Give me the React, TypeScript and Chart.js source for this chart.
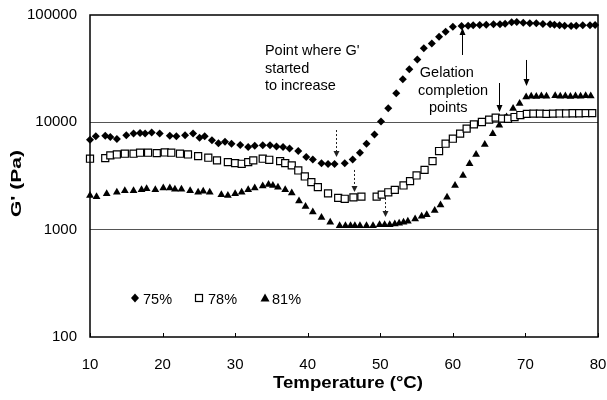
import React, { useEffect, useRef } from "react";
import { Chart, registerables } from "chart.js";

Chart.register(...registerables);

// ---------- data ----------
const temps75 = [10, 10.8, 12.1, 12.8, 13.7, 15, 16, 16.9, 17.6, 18.5, 19.6, 21, 21.9, 23.1, 24.2, 25.1, 25.8, 26.8, 27.7, 28.6, 29.5, 30.7, 31.8, 32.7, 33.8, 34.8, 35.7, 36.6, 37.5, 38.7, 39.8, 40.7, 41.9, 42.8, 43.7, 45.1, 46.2, 47.2, 48.1, 49.2, 50.1, 51.1, 52.2, 53.1, 54, 55.1, 56, 57.1, 58.1, 59, 60, 61.2, 62.1, 62.8, 63.7, 64.6, 65.6, 66.5, 67.2, 68.1, 68.8, 69.7, 70.6, 71.5, 72.4, 73.4, 74, 74.7, 75.4, 76.3, 77, 77.9, 78.9, 79.6];
const g75 = [6900, 7400, 7500, 7300, 7000, 7600, 7850, 7950, 7850, 8050, 7850, 7500, 7400, 7600, 7850, 7200, 7400, 6800, 6400, 6600, 6300, 6150, 5900, 6050, 6100, 6100, 5950, 5900, 5700, 5400, 4750, 4500, 4150, 4100, 4100, 4150, 4500, 5200, 6300, 7700, 10200, 13500, 18700, 25200, 31300, 38500, 48900, 54400, 62700, 69800, 77800, 79000, 79500, 80200, 80700, 81200, 81900, 81900, 83000, 85500, 86100, 84800, 83700, 83700, 82400, 81900, 81200, 80200, 79500, 79000, 79500, 80200, 80200, 80700];

const temps78 = [10, 12.1, 12.8, 13.7, 14.8, 16, 16.9, 18, 19.2, 20.3, 21.2, 22.4, 23.5, 24.9, 26.3, 27.5, 29, 30, 30.9, 31.8, 32.5, 33.8, 34.7, 36.2, 36.9, 37.8, 38.7, 39.6, 40.5, 41.4, 42.8, 44.2, 45.1, 46.3, 47.4, 49.5, 50.2, 51.1, 52, 53.2, 54.1, 55, 56.1, 57.2, 58.1, 59, 60, 61, 61.9, 62.9, 64, 65, 65.9, 66.8, 67.6, 68.5, 69.3, 70.2, 71.1, 72, 72.9, 73.8, 74.7, 75.6, 76.5, 77.4, 78.3, 79.2];
const g78 = [4580, 4640, 4920, 5020, 5100, 5100, 5210, 5210, 5170, 5240, 5210, 5100, 5020, 4840, 4680, 4420, 4260, 4170, 4110, 4260, 4420, 4580, 4480, 4350, 4170, 3970, 3560, 3130, 2770, 2490, 2180, 1980, 1940, 2000, 2030, 2030, 2120, 2230, 2350, 2580, 2830, 3200, 3610, 4350, 5400, 6320, 7040, 7840, 8730, 9580, 10070, 10600, 11060, 10830, 10800, 11200, 11700, 12000, 12060, 12060, 12000, 12060, 12100, 12100, 12150, 12150, 12200, 12200];

const temps81 = [10, 10.9, 12.3, 13.7, 14.8, 16, 17.1, 17.8, 19, 20.1, 21, 21.7, 22.6, 23.8, 24.9, 25.6, 26.5, 28.1, 29, 30, 30.9, 31.8, 32.7, 33.8, 34.6, 35.2, 35.9, 36.9, 37.8, 38.8, 39.7, 40.7, 41.9, 43.1, 44.4, 45.2, 45.9, 46.5, 47.2, 48.1, 49, 49.9, 50.6, 51.3, 52, 52.6, 53.2, 53.8, 54.8, 55.7, 56.4, 57.5, 58.3, 59.2, 60.3, 61.4, 62.3, 63.2, 64.4, 65.5, 66.4, 67.4, 68.3, 69.2, 70.1, 70.8, 71.5, 72.2, 72.9, 74.1, 74.8, 75.5, 76.2, 76.9, 77.6, 78.3, 79];
const g81 = [2080, 2030, 2160, 2230, 2310, 2310, 2350, 2400, 2350, 2450, 2450, 2380, 2380, 2310, 2230, 2280, 2230, 2120, 2080, 2160, 2230, 2350, 2450, 2550, 2630, 2580, 2490, 2350, 2200, 1850, 1640, 1460, 1300, 1170, 1090, 1090, 1090, 1090, 1090, 1090, 1090, 1110, 1110, 1110, 1130, 1150, 1170, 1200, 1260, 1330, 1380, 1510, 1700, 2000, 2580, 3200, 4110, 5020, 6230, 7840, 9370, 11210, 13430, 14960, 17230, 17500, 17400, 17600, 17500, 17700, 17500, 17600, 17400, 17600, 17500, 17700, 17600];

const seriesLabels = ["75%", "78%", "81%"];
const xTicks = [10, 20, 30, 40, 50, 60, 70, 80];
const yTicks = [100, 1000, 10000, 100000];

// annotations (temperature, G' values)
const dottedArrows = [
  { t: 43.9, from: 8480, to: 4750 },
  { t: 46.4, from: 3600, to: 2240 },
  { t: 50.6, from: 1970, to: 1310 },
];
const solidArrows = [
  { t: 61.2, from: 42400, to: 75700 },
  { t: 66.3, from: 23250, to: 12480 },
  { t: 70.1, from: 38100, to: 21800 },
];
const noteLines = [
  { t: 34.1, g: 42400, text: "Point where G'" },
  { t: 34.1, g: 28800, text: "started" },
  { t: 34.1, g: 20000, text: "to increase" },
  { t: 55.45, g: 26440, text: "Gelation" },
  { t: 55.2, g: 17970, text: "completion" },
  { t: 56.7, g: 12480, text: "points" },
];

const FONT = "'Liberation Sans', Arial, Helvetica, sans-serif";

function drawStretched(ctx: CanvasRenderingContext2D, text: string, cx: number, cy: number, targetW: number, font: string, rot: number) {
  ctx.save();
  ctx.font = font;
  const w = ctx.measureText(text).width;
  ctx.translate(cx, cy);
  ctx.rotate(rot);
  ctx.scale(targetW / w, 1);
  ctx.textAlign = "center";
  ctx.textBaseline = "middle";
  ctx.fillStyle = "#000";
  ctx.fillText(text, 0, 0);
  ctx.restore();
}

function drawArrow(ctx: CanvasRenderingContext2D, x: number, y1: number, y2: number, dashed: boolean) {
  const dir = y2 > y1 ? 1 : -1;
  const head = dashed ? 6 : 7;
  const hw = 3;
  ctx.save();
  ctx.strokeStyle = dashed ? "#222" : "#000";
  ctx.fillStyle = dashed ? "#222" : "#000";
  ctx.lineWidth = 1;
  if (dashed) ctx.setLineDash([2, 2]);
  ctx.beginPath();
  ctx.moveTo(x, y1);
  ctx.lineTo(x, y2 - dir * head);
  ctx.stroke();
  ctx.setLineDash([]);
  ctx.beginPath();
  ctx.moveTo(x, y2);
  ctx.lineTo(x - hw, y2 - dir * head);
  ctx.lineTo(x + hw, y2 - dir * head);
  ctx.closePath();
  ctx.fill();
  ctx.restore();
}

const overlayPlugin = {
  id: "overlay",
  afterDraw(chart: any) {
    const { ctx, chartArea } = chart;
    const { left, right, top, bottom } = chartArea;
    const xs = chart.scales.x;
    const ys = chart.scales.y;
    ctx.save();
    // frame
    ctx.strokeStyle = "#000";
    ctx.lineWidth = 1.5;
    ctx.strokeRect(left, top, right - left, bottom - top);
    // inside ticks on x axis
    ctx.lineWidth = 1;
    xTicks.forEach((v) => {
      const px = Math.round(xs.getPixelForValue(v)) + 0.5;
      ctx.beginPath();
      ctx.moveTo(px, bottom);
      ctx.lineTo(px, bottom - 4);
      ctx.stroke();
    });
    // arrows
    dottedArrows.forEach((a) => {
      drawArrow(ctx, Math.round(xs.getPixelForValue(a.t)) + 0.5, ys.getPixelForValue(a.from), ys.getPixelForValue(a.to), true);
    });
    solidArrows.forEach((a) => {
      drawArrow(ctx, Math.round(xs.getPixelForValue(a.t)) + 0.5, ys.getPixelForValue(a.from), ys.getPixelForValue(a.to), false);
    });
    // notes
    ctx.fillStyle = "#000";
    ctx.font = `14.5px ${FONT}`;
    ctx.textAlign = "left";
    ctx.textBaseline = "alphabetic";
    noteLines.forEach((n) => {
      ctx.fillText(n.text, xs.getPixelForValue(n.t), ys.getPixelForValue(n.g));
    });
    // legend
    const legendY = 298;
    const items = [
      { mx: 135, tx: 143 },
      { mx: 199, tx: 208 },
      { mx: 265, tx: 272 },
    ];
    ctx.fillStyle = "#000";
    ctx.beginPath();
    ctx.moveTo(items[0].mx, legendY - 4.5);
    ctx.lineTo(items[0].mx + 4, legendY);
    ctx.lineTo(items[0].mx, legendY + 4.5);
    ctx.lineTo(items[0].mx - 4, legendY);
    ctx.closePath();
    ctx.fill();
    ctx.fillStyle = "#fff";
    ctx.strokeStyle = "#000";
    ctx.lineWidth = 1.2;
    ctx.fillRect(items[1].mx - 3.5, legendY - 3.5, 7, 7);
    ctx.strokeRect(items[1].mx - 3.5, legendY - 3.5, 7, 7);
    ctx.fillStyle = "#000";
    ctx.beginPath();
    ctx.moveTo(items[2].mx, legendY - 4.5);
    ctx.lineTo(items[2].mx + 4.5, legendY + 3.5);
    ctx.lineTo(items[2].mx - 4.5, legendY + 3.5);
    ctx.closePath();
    ctx.fill();
    ctx.font = `14.5px ${FONT}`;
    ctx.textBaseline = "alphabetic";
    items.forEach((it, i) => ctx.fillText(seriesLabels[i], it.tx, legendY + 6));
    // axis titles
    drawStretched(ctx, "Temperature (°C)", 348, 383.5, 150, `bold 17px ${FONT}`, 0);
    drawStretched(ctx, "G' (Pa)", 17, 183.5, 67, `bold 15px ${FONT}`, -Math.PI / 2);
    ctx.restore();
  },
};

function toPoints(xs: number[], ys: number[]) {
  return xs.map((x, i) => ({ x, y: ys[i] }));
}

export default function App() {
  const ref = useRef<HTMLCanvasElement | null>(null);
  useEffect(() => {
    if (!ref.current) return;
    const chart = new Chart(ref.current, {
      type: "scatter",
      data: {
        datasets: [
          {
            label: seriesLabels[0],
            data: toPoints(temps75, g75),
            pointStyle: "rectRot",
            pointRadius: 4,
            backgroundColor: "#000",
            borderColor: "#000",
            borderWidth: 0,
            clip: false,
          },
          {
            label: seriesLabels[1],
            data: toPoints(temps78, g78),
            pointStyle: "rect",
            pointRadius: 5,
            backgroundColor: "#fff",
            borderColor: "#000",
            borderWidth: 1.2,
            clip: false,
          },
          {
            label: seriesLabels[2],
            data: toPoints(temps81, g81),
            pointStyle: "triangle",
            pointRadius: 4.5,
            backgroundColor: "#000",
            borderColor: "#000",
            borderWidth: 0,
            clip: false,
          },
        ] as any,
      },
      options: {
        responsive: false,
        animation: false,
        events: [],
        layout: { padding: { left: 0, right: 9, top: 15, bottom: 0 } },
        plugins: { legend: { display: false }, tooltip: { enabled: false }, title: { display: false } },
        scales: {
          x: {
            type: "linear",
            min: 10,
            max: 80,
            afterBuildTicks: (s: any) => {
              s.ticks = xTicks.map((v) => ({ value: v }));
            },
            afterFit: (s: any) => {
              s.height = 63;
              s.paddingLeft = 0;
              s.paddingRight = 0;
            },
            grid: { display: false, drawTicks: false },
            border: { display: false },
            ticks: { color: "#000", font: { family: FONT, size: 15 }, padding: 19, maxRotation: 0, autoSkip: false },
          },
          y: {
            type: "logarithmic",
            min: 100,
            max: 100000,
            afterBuildTicks: (s: any) => {
              s.ticks = yTicks.map((v) => ({ value: v }));
            },
            afterFit: (s: any) => {
              s.width = 90;
              s.paddingTop = 0;
              s.paddingBottom = 0;
            },
            grid: {
              drawTicks: false,
              color: (c: any) => (c.tick && (c.tick.value === 1000 || c.tick.value === 10000) ? "#555" : "rgba(0,0,0,0)"),
              lineWidth: 1,
            },
            border: { display: false },
            ticks: {
              color: "#000",
              font: { family: FONT, size: 15 },
              padding: 13,
              autoSkip: false,
              callback: (v: any) => String(Number(v)),
            },
          },
        },
      },
      plugins: [overlayPlugin],
    });
    return () => chart.destroy();
  }, []);
  return (
    <div style={{ position: "absolute", left: 0, top: 0, width: 607, height: 400, background: "#fff" }}>
      <canvas ref={ref} width={607} height={400} style={{ display: "block", width: 607, height: 400 }} />
    </div>
  );
}
